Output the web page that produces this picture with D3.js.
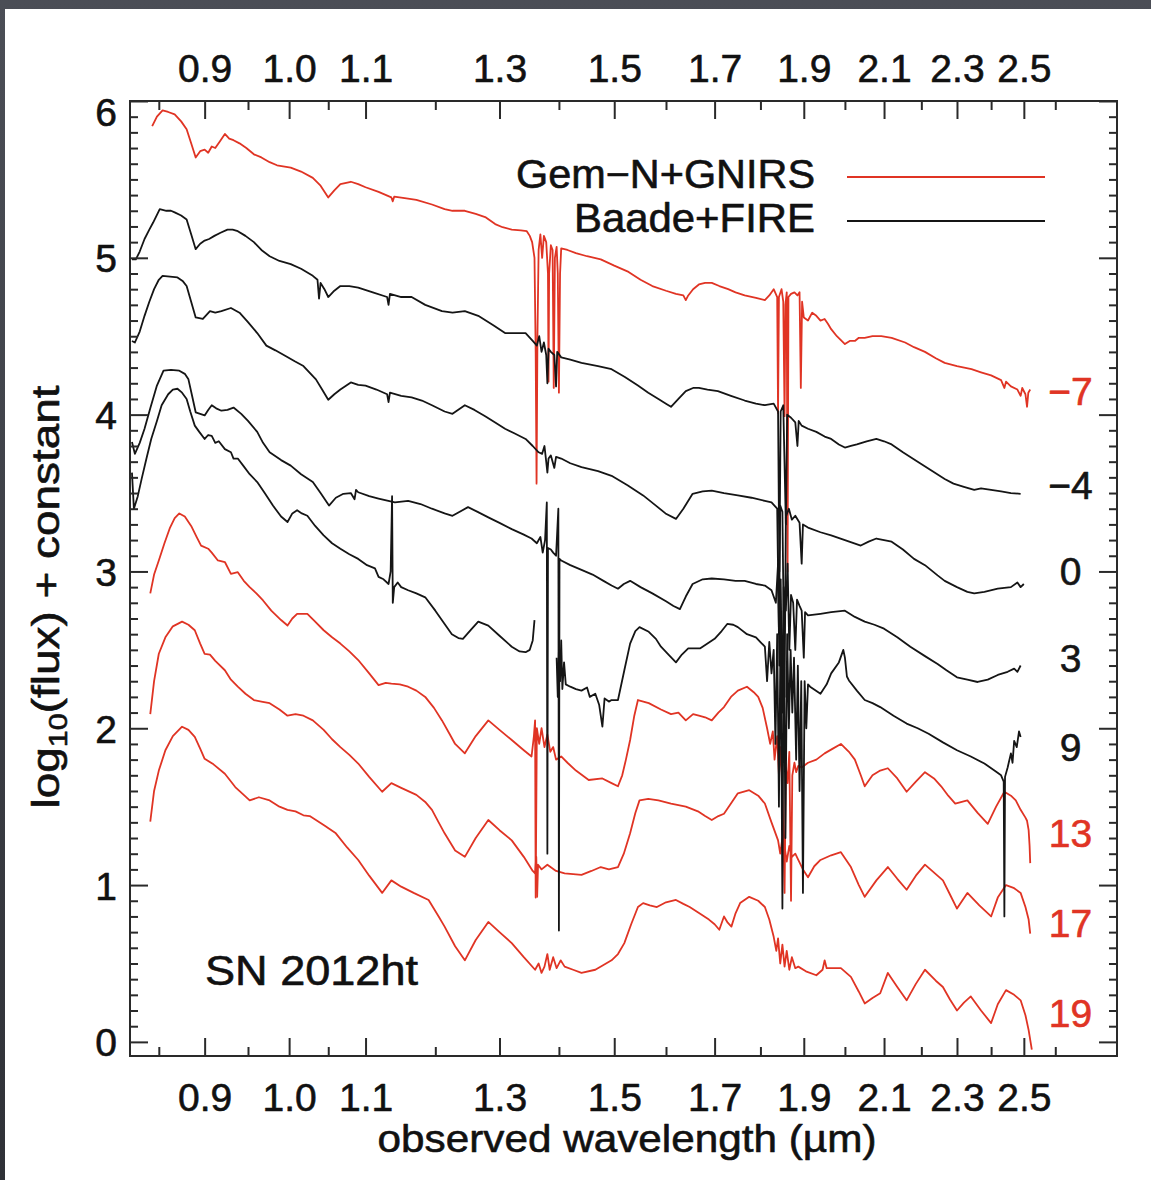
<!DOCTYPE html>
<html>
<head>
<meta charset="utf-8">
<script src="https://cdn.jsdelivr.net/npm/d3@7"></script>
<style>
  html, body { margin: 0; padding: 0; background: #3a3d44; }
  svg { display: block; }
  text { paint-order: stroke; stroke-linejoin: round; }
</style>
</head>
<body>
<svg id="chart" width="1151" height="1180"></svg>
<script>
// Near-infrared spectral sequence of SN 2012ht, log10(flux) + constant vs observed wavelength (µm).
// Each spectrum: [wavelength µm, log10 flux + offset]; null marks a gap in coverage.

const instruments = ["Gem\u2212N+GNIRS", "Baade+FIRE"];
const epochLabels = ["\u22127", "\u22124", "0", "3", "9", "13", "17", "19"];
const epochInstrument = [0, 1, 1, 1, 1, 0, 0, 0];
const epochLabelLevel = [4.15, 3.55, 3.00, 2.45, 1.88, 1.33, 0.76, 0.185];

const specM7 = [[0.843,5.84],[0.848,5.90],[0.854,5.94],[0.860,5.93],[0.867,5.915],[0.874,5.87],[0.880,5.82],[0.885,5.73],[0.890,5.64],[0.895,5.68],[0.900,5.69],[0.904,5.67],[0.908,5.71],[0.912,5.70],[0.917,5.74],[0.923,5.79],[0.928,5.76],[0.933,5.75],[0.940,5.73],[0.948,5.70],[0.957,5.66],[0.966,5.64],[0.976,5.61],[0.985,5.59],[1.002,5.575],[1.015,5.55],[1.030,5.51],[1.040,5.46],[1.050,5.385],[1.058,5.43],[1.066,5.47],[1.080,5.485],[1.090,5.47],[1.100,5.45],[1.118,5.42],[1.136,5.385],[1.138,5.36],[1.140,5.39],[1.155,5.38],[1.172,5.37],[1.195,5.34],[1.214,5.31],[1.226,5.30],[1.245,5.30],[1.262,5.28],[1.277,5.26],[1.293,5.215],[1.305,5.195],[1.320,5.18],[1.335,5.175],[1.345,5.17],[1.350,5.14],[1.354,5.10],[1.358,5.0],[1.360,4.4],[1.3615,3.56],[1.363,4.5],[1.365,5.05],[1.368,5.15],[1.371,5.0],[1.374,5.14],[1.378,5.10],[1.381,4.9],[1.382,4.21],[1.383,4.9],[1.386,5.08],[1.389,5.05],[1.391,4.17],[1.393,5.0],[1.396,5.07],[1.398,4.9],[1.400,4.14],[1.402,4.9],[1.404,5.06],[1.415,5.05],[1.430,5.03],[1.450,5.01],[1.475,4.99],[1.500,4.95],[1.527,4.91],[1.550,4.86],[1.573,4.82],[1.600,4.79],[1.620,4.77],[1.635,4.76],[1.640,4.73],[1.645,4.76],[1.655,4.80],[1.667,4.83],[1.680,4.84],[1.694,4.84],[1.710,4.82],[1.729,4.80],[1.745,4.78],[1.765,4.76],[1.790,4.745],[1.810,4.73],[1.820,4.76],[1.830,4.80],[1.838,4.75],[1.840,4.01],[1.842,4.75],[1.848,4.80],[1.852,4.72],[1.855,3.99],[1.857,4.7],[1.860,4.78],[1.862,3.0],[1.864,4.75],[1.870,4.77],[1.878,4.78],[1.885,4.76],[1.890,4.78],[1.893,4.17],[1.896,4.72],[1.900,4.62],[1.910,4.60],[1.920,4.65],[1.930,4.63],[1.940,4.60],[1.950,4.61],[1.958,4.58],[1.966,4.545],[1.980,4.50],[2.000,4.45],[2.012,4.47],[2.025,4.47],[2.035,4.49],[2.050,4.49],[2.070,4.50],[2.093,4.50],[2.120,4.49],[2.156,4.46],[2.180,4.43],[2.210,4.40],[2.240,4.36],[2.265,4.33],[2.300,4.31],[2.342,4.29],[2.370,4.27],[2.400,4.25],[2.430,4.22],[2.440,4.17],[2.445,4.21],[2.460,4.18],[2.480,4.16],[2.490,4.12],[2.495,4.17],[2.505,4.13],[2.510,4.05],[2.514,4.14],[2.520,4.16]];

const specM4 = [[0.822,4.99],[0.826,4.99],[0.830,5.04],[0.835,5.12],[0.840,5.18],[0.844,5.225],[0.851,5.31],[0.858,5.30],[0.863,5.30],[0.867,5.29],[0.874,5.27],[0.880,5.245],[0.885,5.15],[0.890,5.055],[0.895,5.09],[0.900,5.11],[0.905,5.12],[0.911,5.14],[0.918,5.16],[0.926,5.18],[0.932,5.18],[0.938,5.17],[0.947,5.14],[0.957,5.10],[0.966,5.05],[0.976,5.01],[0.988,4.98],[1.002,4.96],[1.015,4.93],[1.030,4.885],[1.036,4.86],[1.038,4.74],[1.040,4.84],[1.045,4.80],[1.050,4.75],[1.058,4.79],[1.066,4.82],[1.078,4.82],[1.090,4.81],[1.110,4.78],[1.130,4.75],[1.132,4.70],[1.134,4.77],[1.150,4.75],[1.165,4.75],[1.185,4.70],[1.210,4.66],[1.226,4.65],[1.245,4.66],[1.266,4.63],[1.290,4.57],[1.309,4.52],[1.325,4.52],[1.343,4.52],[1.355,4.47],[1.362,4.44],[1.366,4.50],[1.370,4.40],[1.374,4.46],[1.378,4.38],[1.380,4.20],[1.382,4.42],[1.386,4.40],[1.392,4.38],[1.395,4.18],[1.397,4.40],[1.404,4.365],[1.420,4.35],[1.440,4.33],[1.470,4.31],[1.495,4.29],[1.520,4.24],[1.545,4.185],[1.565,4.14],[1.585,4.10],[1.600,4.07],[1.610,4.05],[1.625,4.10],[1.640,4.15],[1.655,4.17],[1.667,4.17],[1.685,4.16],[1.707,4.15],[1.735,4.12],[1.765,4.09],[1.790,4.07],[1.810,4.06],[1.830,4.07],[1.840,4.02],[1.843,3.0],[1.846,4.02],[1.852,4.06],[1.858,3.3],[1.861,4.0],[1.870,3.98],[1.880,3.95],[1.885,3.80],[1.888,3.96],[1.895,3.93],[1.910,3.91],[1.930,3.89],[1.950,3.86],[1.966,3.845],[1.985,3.81],[2.000,3.79],[2.015,3.80],[2.030,3.81],[2.055,3.83],[2.080,3.845],[2.100,3.83],[2.120,3.81],[2.150,3.76],[2.190,3.70],[2.230,3.64],[2.265,3.59],[2.290,3.56],[2.320,3.54],[2.350,3.52],[2.370,3.53],[2.400,3.52],[2.430,3.51],[2.460,3.50],[2.490,3.495]];

const spec0 = [[0.822,4.47],[0.825,4.46],[0.830,4.53],[0.835,4.63],[0.840,4.72],[0.845,4.80],[0.850,4.86],[0.854,4.885],[0.862,4.88],[0.870,4.875],[0.876,4.85],[0.880,4.82],[0.885,4.72],[0.890,4.62],[0.898,4.61],[0.906,4.66],[0.912,4.65],[0.919,4.66],[0.930,4.68],[0.940,4.65],[0.950,4.59],[0.961,4.52],[0.972,4.44],[0.983,4.41],[0.995,4.375],[1.007,4.34],[1.018,4.31],[1.034,4.225],[1.042,4.16],[1.050,4.095],[1.058,4.13],[1.066,4.16],[1.080,4.205],[1.090,4.19],[1.100,4.185],[1.115,4.16],[1.130,4.13],[1.132,4.08],[1.134,4.14],[1.150,4.12],[1.165,4.11],[1.180,4.09],[1.195,4.06],[1.214,4.02],[1.226,4.005],[1.245,4.06],[1.260,4.03],[1.277,3.99],[1.293,3.95],[1.309,3.91],[1.325,3.88],[1.343,3.845],[1.355,3.80],[1.365,3.76],[1.371,3.75],[1.375,3.80],[1.378,3.70],[1.380,3.63],[1.382,3.72],[1.386,3.74],[1.392,3.66],[1.395,3.73],[1.404,3.72],[1.420,3.69],[1.440,3.665],[1.470,3.64],[1.495,3.61],[1.525,3.55],[1.555,3.485],[1.580,3.42],[1.599,3.37],[1.620,3.335],[1.635,3.40],[1.654,3.495],[1.675,3.51],[1.694,3.515],[1.720,3.50],[1.750,3.485],[1.780,3.47],[1.810,3.45],[1.825,3.44],[1.838,3.40],[1.842,2.6],[1.845,3.42],[1.850,3.38],[1.855,2.2],[1.858,3.35],[1.865,3.40],[1.872,3.33],[1.880,3.355],[1.890,3.31],[1.895,3.05],[1.898,3.30],[1.910,3.28],[1.940,3.25],[1.966,3.23],[2.000,3.20],[2.040,3.165],[2.060,3.19],[2.080,3.21],[2.100,3.20],[2.120,3.19],[2.150,3.14],[2.180,3.08],[2.210,3.04],[2.245,2.975],[2.265,2.94],[2.300,2.90],[2.330,2.87],[2.350,2.86],[2.380,2.87],[2.420,2.89],[2.460,2.90],[2.480,2.93],[2.490,2.90],[2.500,2.92]];

const spec3 = [[0.822,3.825],[0.825,3.75],[0.830,3.82],[0.835,3.91],[0.841,4.04],[0.848,4.185],[0.855,4.28],[0.863,4.285],[0.872,4.28],[0.878,4.26],[0.882,4.225],[0.886,4.12],[0.890,4.015],[0.900,3.995],[0.904,4.03],[0.908,4.06],[0.913,4.04],[0.919,4.025],[0.926,4.03],[0.933,4.045],[0.942,4.005],[0.950,3.96],[0.961,3.89],[0.968,3.82],[0.976,3.76],[0.990,3.71],[1.002,3.675],[1.015,3.62],[1.030,3.57],[1.040,3.50],[1.051,3.42],[1.060,3.47],[1.070,3.495],[1.080,3.50],[1.085,3.46],[1.087,3.52],[1.090,3.505],[1.105,3.48],[1.118,3.465],[1.141,3.44],[1.160,3.45],[1.178,3.43],[1.195,3.40],[1.214,3.37],[1.226,3.355],[1.250,3.41],[1.265,3.38],[1.282,3.345],[1.300,3.31],[1.320,3.27],[1.340,3.235],[1.353,3.21],[1.362,3.18],[1.368,3.22],[1.372,3.12],[1.376,3.20],[1.379,3.44],[1.380,1.20],[1.381,3.15],[1.386,3.14],[1.390,3.12],[1.395,3.10],[1.399,3.40],[1.400,0.71],[1.401,3.08],[1.404,3.07],[1.420,3.04],[1.440,3.01],[1.460,2.98],[1.480,2.94],[1.495,2.91],[1.507,2.89],[1.518,2.92],[1.530,2.94],[1.550,2.90],[1.573,2.86],[1.600,2.81],[1.615,2.78],[1.628,2.76],[1.640,2.84],[1.654,2.92],[1.675,2.95],[1.694,2.955],[1.720,2.95],[1.745,2.94],[1.765,2.94],[1.790,2.92],[1.810,2.91],[1.825,2.88],[1.835,2.80],[1.840,3.05],[1.843,2.4],[1.846,2.95],[1.850,2.1],[1.853,2.90],[1.858,2.75],[1.862,3.05],[1.866,2.5],[1.870,2.85],[1.875,2.80],[1.880,2.50],[1.884,2.82],[1.890,2.78],[1.895,2.75],[1.900,2.45],[1.903,2.74],[1.910,2.72],[1.940,2.73],[1.966,2.74],[2.000,2.75],[2.025,2.71],[2.050,2.68],[2.075,2.66],[2.100,2.635],[2.135,2.58],[2.170,2.52],[2.210,2.46],[2.245,2.41],[2.270,2.37],[2.300,2.325],[2.330,2.31],[2.360,2.295],[2.390,2.31],[2.420,2.34],[2.450,2.36],[2.470,2.38],[2.480,2.36],[2.490,2.40]];

const spec9 = [[0.822,3.63],[0.824,3.40],[0.828,3.48],[0.832,3.59],[0.837,3.72],[0.842,3.845],[0.848,3.96],[0.853,4.06],[0.860,4.13],[0.865,4.16],[0.870,4.165],[0.875,4.14],[0.880,4.10],[0.884,4.02],[0.889,3.93],[0.894,3.89],[0.900,3.845],[0.904,3.87],[0.908,3.865],[0.912,3.82],[0.916,3.83],[0.923,3.78],[0.930,3.76],[0.933,3.72],[0.938,3.72],[0.945,3.67],[0.952,3.62],[0.961,3.57],[0.970,3.50],[0.980,3.42],[0.990,3.35],[0.998,3.315],[1.004,3.37],[1.010,3.39],[1.016,3.37],[1.023,3.355],[1.033,3.29],[1.044,3.23],[1.055,3.18],[1.066,3.145],[1.078,3.11],[1.090,3.08],[1.102,3.04],[1.113,3.02],[1.118,2.965],[1.125,2.95],[1.132,2.92],[1.135,3.0],[1.137,3.48],[1.138,2.80],[1.140,2.90],[1.145,2.93],[1.150,2.90],[1.160,2.88],[1.172,2.86],[1.185,2.835],[1.200,2.75],[1.214,2.665],[1.225,2.60],[1.235,2.575],[1.242,2.57],[1.255,2.63],[1.266,2.68],[1.282,2.655],[1.300,2.59],[1.320,2.52],[1.333,2.49],[1.343,2.485],[1.350,2.50],[1.355,2.56],[1.358,2.69],[1.370,null],[1.396,2.45],[1.398,2.20],[1.400,2.50],[1.402,2.30],[1.404,2.56],[1.406,2.25],[1.409,2.42],[1.412,2.28],[1.420,2.265],[1.430,2.25],[1.440,2.24],[1.450,2.26],[1.455,2.20],[1.465,2.22],[1.472,2.15],[1.478,2.01],[1.482,2.19],[1.490,2.17],[1.495,2.18],[1.507,2.18],[1.519,2.37],[1.530,2.54],[1.540,2.62],[1.548,2.645],[1.566,2.615],[1.580,2.57],[1.590,2.52],[1.605,2.47],[1.620,2.42],[1.632,2.47],[1.645,2.51],[1.670,2.51],[1.685,2.54],[1.700,2.57],[1.715,2.62],[1.727,2.665],[1.740,2.66],[1.750,2.645],[1.770,2.60],[1.790,2.58],[1.800,2.55],[1.810,2.52],[1.815,2.30],[1.820,2.55],[1.825,2.35],[1.830,2.50],[1.834,1.9],[1.838,2.6],[1.842,1.5],[1.846,2.7],[1.850,0.85],[1.853,2.75],[1.857,1.3],[1.861,2.6],[1.865,2.0],[1.869,2.5],[1.873,2.1],[1.877,2.45],[1.882,1.8],[1.886,2.4],[1.890,1.6],[1.894,2.3],[1.898,0.95],[1.902,2.3],[1.906,2.0],[1.910,2.28],[1.915,2.265],[1.940,2.22],[1.955,2.28],[1.966,2.35],[1.985,2.42],[1.996,2.50],[2.000,2.45],[2.005,2.33],[2.010,2.305],[2.030,2.24],[2.050,2.18],[2.070,2.16],[2.090,2.135],[2.125,2.08],[2.160,2.03],[2.190,2.00],[2.220,1.965],[2.260,1.91],[2.300,1.86],[2.340,1.82],[2.380,1.775],[2.410,1.73],[2.430,1.70],[2.438,1.66],[2.440,0.80],[2.442,1.69],[2.450,1.75],[2.460,1.84],[2.465,1.78],[2.470,1.92],[2.478,1.88],[2.485,1.98],[2.490,1.945]];

const spec13 = [[0.841,2.86],[0.845,2.98],[0.850,3.07],[0.856,3.18],[0.862,3.28],[0.867,3.34],[0.872,3.37],[0.878,3.35],[0.885,3.29],[0.891,3.22],[0.896,3.165],[0.904,3.145],[0.908,3.12],[0.915,3.07],[0.923,3.06],[0.930,2.985],[0.938,2.995],[0.945,2.94],[0.952,2.90],[0.960,2.86],[0.968,2.815],[0.978,2.75],[0.990,2.69],[0.998,2.655],[1.004,2.70],[1.010,2.73],[1.023,2.73],[1.033,2.68],[1.044,2.625],[1.055,2.58],[1.066,2.54],[1.078,2.49],[1.090,2.435],[1.105,2.35],[1.118,2.275],[1.128,2.29],[1.136,2.285],[1.148,2.28],[1.160,2.265],[1.172,2.24],[1.185,2.20],[1.198,2.13],[1.210,2.05],[1.222,1.96],[1.230,1.90],[1.245,1.84],[1.262,1.95],[1.282,2.05],[1.300,1.99],[1.320,1.925],[1.340,1.86],[1.353,1.82],[1.357,1.95],[1.359,2.05],[1.360,0.92],[1.362,2.0],[1.366,1.90],[1.370,2.0],[1.375,1.88],[1.380,1.96],[1.385,1.85],[1.390,1.88],[1.395,1.80],[1.404,1.82],[1.415,1.78],[1.430,1.73],[1.453,1.67],[1.478,1.68],[1.495,1.65],[1.507,1.63],[1.515,1.70],[1.522,1.80],[1.530,1.925],[1.538,2.08],[1.545,2.18],[1.566,2.16],[1.590,2.12],[1.610,2.09],[1.625,2.10],[1.640,2.05],[1.655,2.09],[1.667,2.08],[1.680,2.07],[1.694,2.05],[1.708,2.10],[1.720,2.135],[1.735,2.20],[1.750,2.24],[1.770,2.265],[1.785,2.23],[1.795,2.20],[1.805,2.13],[1.815,2.00],[1.822,1.90],[1.828,1.98],[1.832,1.80],[1.838,1.95],[1.842,1.70],[1.846,1.88],[1.850,1.60],[1.855,0.95],[1.858,1.75],[1.862,1.65],[1.866,1.85],[1.870,0.90],[1.873,1.70],[1.878,1.78],[1.882,1.72],[1.887,1.76],[1.895,1.75],[1.910,1.78],[1.930,1.80],[1.950,1.84],[1.970,1.87],[1.990,1.90],[2.010,1.85],[2.025,1.80],[2.040,1.70],[2.050,1.63],[2.070,1.70],[2.090,1.73],[2.110,1.745],[2.135,1.68],[2.160,1.595],[2.185,1.66],[2.210,1.72],[2.235,1.68],[2.255,1.63],[2.275,1.57],[2.295,1.52],[2.330,1.54],[2.360,1.46],[2.390,1.39],[2.415,1.50],[2.440,1.595],[2.460,1.57],[2.475,1.54],[2.490,1.48],[2.505,1.43],[2.510,1.41],[2.515,1.35],[2.518,1.25],[2.520,1.14]];

const spec17 = [[0.841,2.09],[0.845,2.30],[0.850,2.475],[0.857,2.58],[0.865,2.65],[0.875,2.68],[0.882,2.66],[0.889,2.625],[0.895,2.54],[0.900,2.475],[0.906,2.47],[0.912,2.43],[0.923,2.37],[0.930,2.31],[0.938,2.265],[0.947,2.22],[0.957,2.18],[0.966,2.17],[0.976,2.16],[0.988,2.12],[0.998,2.08],[1.008,2.09],[1.018,2.08],[1.030,2.05],[1.044,1.99],[1.055,1.93],[1.066,1.88],[1.078,1.83],[1.090,1.775],[1.105,1.69],[1.123,1.595],[1.136,1.65],[1.150,1.62],[1.172,1.575],[1.185,1.53],[1.195,1.48],[1.205,1.40],[1.214,1.33],[1.230,1.22],[1.245,1.18],[1.262,1.30],[1.282,1.415],[1.300,1.35],[1.320,1.285],[1.340,1.18],[1.355,1.09],[1.359,1.075],[1.361,1.18],[1.3625,0.925],[1.364,1.13],[1.370,1.10],[1.380,1.13],[1.395,1.09],[1.410,1.075],[1.425,1.07],[1.440,1.065],[1.458,1.09],[1.475,1.115],[1.490,1.10],[1.507,1.115],[1.518,1.20],[1.530,1.33],[1.540,1.46],[1.548,1.54],[1.565,1.55],[1.585,1.54],[1.610,1.52],[1.640,1.50],[1.665,1.47],[1.680,1.44],[1.694,1.415],[1.708,1.44],[1.720,1.455],[1.735,1.52],[1.750,1.585],[1.775,1.605],[1.795,1.57],[1.810,1.52],[1.825,1.40],[1.840,1.285],[1.845,1.20],[1.850,1.30],[1.855,1.245],[1.860,1.15],[1.866,1.25],[1.872,1.18],[1.880,1.20],[1.887,1.16],[1.898,1.10],[1.910,1.05],[1.925,1.12],[1.940,1.16],[1.966,1.19],[1.990,1.21],[2.015,1.115],[2.035,1.00],[2.050,0.925],[2.080,1.03],[2.110,1.115],[2.135,1.04],[2.160,0.97],[2.185,1.06],[2.210,1.13],[2.240,1.07],[2.260,1.03],[2.280,0.94],[2.300,0.85],[2.330,0.95],[2.365,0.87],[2.400,0.80],[2.420,0.92],[2.445,1.00],[2.470,0.98],[2.490,0.95],[2.505,0.86],[2.515,0.78],[2.520,0.69]];

const spec19 = [[0.841,1.405],[0.845,1.60],[0.850,1.73],[0.857,1.86],[0.865,1.95],[0.875,2.01],[0.882,1.99],[0.889,1.945],[0.895,1.87],[0.900,1.805],[0.910,1.77],[0.923,1.71],[0.935,1.625],[0.944,1.58],[0.952,1.54],[0.963,1.56],[0.976,1.54],[0.988,1.50],[0.998,1.48],[1.008,1.47],[1.018,1.445],[1.026,1.44],[1.034,1.415],[1.045,1.38],[1.060,1.33],[1.075,1.24],[1.090,1.16],[1.105,1.06],[1.123,0.95],[1.136,1.03],[1.150,0.99],[1.168,0.95],[1.190,0.905],[1.205,0.80],[1.214,0.735],[1.230,0.61],[1.245,0.52],[1.262,0.65],[1.282,0.765],[1.300,0.70],[1.320,0.63],[1.340,0.54],[1.359,0.46],[1.365,0.50],[1.370,0.44],[1.375,0.48],[1.380,0.56],[1.384,0.46],[1.390,0.54],[1.396,0.47],[1.403,0.52],[1.410,0.48],[1.425,0.46],[1.440,0.44],[1.465,0.46],[1.480,0.49],[1.495,0.52],[1.507,0.56],[1.519,0.63],[1.532,0.75],[1.545,0.86],[1.555,0.885],[1.568,0.87],[1.582,0.86],[1.600,0.89],[1.620,0.905],[1.635,0.88],[1.648,0.86],[1.668,0.82],[1.688,0.78],[1.700,0.75],[1.710,0.715],[1.720,0.80],[1.728,0.76],[1.736,0.735],[1.745,0.82],[1.755,0.885],[1.775,0.925],[1.795,0.90],[1.810,0.86],[1.820,0.78],[1.830,0.67],[1.836,0.58],[1.840,0.66],[1.845,0.50],[1.850,0.62],[1.855,0.48],[1.860,0.58],[1.866,0.46],[1.872,0.54],[1.880,0.47],[1.887,0.48],[1.905,0.45],[1.930,0.425],[1.945,0.46],[1.950,0.52],[1.955,0.47],[1.970,0.47],[1.990,0.47],[2.015,0.415],[2.035,0.32],[2.050,0.245],[2.070,0.28],[2.090,0.31],[2.110,0.44],[2.135,0.35],[2.160,0.265],[2.185,0.37],[2.210,0.46],[2.240,0.39],[2.260,0.35],[2.280,0.27],[2.300,0.20],[2.320,0.25],[2.340,0.29],[2.370,0.20],[2.400,0.12],[2.420,0.24],[2.445,0.33],[2.470,0.30],[2.490,0.265],[2.505,0.17],[2.515,0.075],[2.525,-0.05]];

const spectra = [specM7, specM4, spec0, spec3, spec9, spec13, spec17, spec19];

// Axis ticks (µm on log axis, log flux on linear axis)
const xMajorTicks = [0.9, 1.0, 1.1, 1.3, 1.5, 1.7, 1.9, 2.1, 2.3, 2.5];
const xMinorTicks = [0.85, 0.95, 1.05, 1.2, 1.4, 1.6, 1.8, 2.0, 2.2, 2.4, 2.6];
const yMajorTicks = [0, 1, 2, 3, 4, 5, 6];
const yMinorTicks = d3.range(1, 60).filter(i => i % 10 !== 0).map(i => i / 10);

const objectName = "SN 2012ht";
const xTitle = "observed wavelength (\u00b5m)";

// ---- layout ----
const W = 1151, H = 1180;
const frame = { left: 130, right: 1117, top: 101, bottom: 1056 };
const RED = "#e03424", BLACK = "#151515", AXIS = "#2a2a2a", INK = "#111";
const FONT = "'Liberation Sans', Arial, Helvetica, sans-serif";
const TEXT_STROKE = 0.6;
const instColor = [RED, BLACK];

const svg = d3.select("#chart");

const defs = svg.append("defs");
const bg = defs.append("linearGradient").attr("id", "bgGrad")
  .attr("x1", 0).attr("y1", 0).attr("x2", 0).attr("y2", 1);
bg.append("stop").attr("offset", "0%").attr("stop-color", "#4b4e56");
bg.append("stop").attr("offset", "100%").attr("stop-color", "#2f3137");

svg.append("rect").attr("width", W).attr("height", H).attr("fill", "url(#bgGrad)");
svg.append("rect").attr("x", 5).attr("y", 9).attr("width", W - 5).attr("height", H - 9).attr("fill", "#ffffff");

const x = d3.scaleLog().domain([0.82, 2.808]).range([frame.left, frame.right]);
const y = d3.scaleLinear().domain([-0.09, 6.0]).range([frame.bottom, frame.top]);

// ---- spectra ----
const line = d3.line()
  .defined(d => d[1] !== null)
  .x(d => x(d[0]))
  .y(d => y(d[1]));

const order = [0, 5, 6, 7, 1, 2, 3, 4]; // red set first, black set on top
const gLines = svg.append("g").attr("fill", "none").attr("stroke-linejoin", "round");
order.forEach(i => {
  gLines.append("path")
    .attr("d", line(spectra[i]))
    .attr("stroke", instColor[epochInstrument[i]])
    .attr("stroke-width", 1.8);
});

// ---- axes ----
function styleAxis(g) {
  g.select(".domain").remove();
  g.selectAll(".tick line").attr("stroke", AXIS).attr("stroke-width", 2);
  g.selectAll(".tick text")
    .attr("fill", INK).attr("stroke", INK).attr("stroke-width", TEXT_STROKE)
    .attr("font-size", 39).attr("font-family", FONT);
}
const fmt = d3.format(".1f");

svg.append("g").attr("transform", `translate(0,${frame.bottom})`)
  .call(d3.axisBottom(x).tickValues(xMajorTicks).tickSize(-18).tickSizeOuter(0).tickPadding(27).tickFormat(fmt))
  .call(styleAxis);
svg.append("g").attr("transform", `translate(0,${frame.bottom})`)
  .call(d3.axisBottom(x).tickValues(xMinorTicks).tickSize(-9).tickSizeOuter(0).tickFormat(""))
  .call(styleAxis);
svg.append("g").attr("transform", `translate(0,${frame.top})`)
  .call(d3.axisTop(x).tickValues(xMajorTicks).tickSize(-18).tickSizeOuter(0).tickPadding(19).tickFormat(fmt))
  .call(styleAxis);
svg.append("g").attr("transform", `translate(0,${frame.top})`)
  .call(d3.axisTop(x).tickValues(xMinorTicks).tickSize(-9).tickSizeOuter(0).tickFormat(""))
  .call(styleAxis);

const yLeft = svg.append("g").attr("transform", `translate(${frame.left},0)`)
  .call(d3.axisLeft(y).tickValues(yMajorTicks).tickSize(-18).tickSizeOuter(0).tickPadding(13).tickFormat(d3.format("d")))
  .call(styleAxis);
// keep the top label inside the panel's top edge
yLeft.selectAll(".tick text").attr("dy", d => d === 6 ? "0.62em" : "0.36em");
svg.append("g").attr("transform", `translate(${frame.left},0)`)
  .call(d3.axisLeft(y).tickValues(yMinorTicks).tickSize(-8).tickSizeOuter(0).tickFormat(""))
  .call(styleAxis);
svg.append("g").attr("transform", `translate(${frame.right},0)`)
  .call(d3.axisRight(y).tickValues(yMajorTicks).tickSize(-18).tickSizeOuter(0).tickFormat(""))
  .call(styleAxis);
svg.append("g").attr("transform", `translate(${frame.right},0)`)
  .call(d3.axisRight(y).tickValues(yMinorTicks).tickSize(-8).tickSizeOuter(0).tickFormat(""))
  .call(styleAxis);

svg.append("rect")
  .attr("x", frame.left).attr("y", frame.top)
  .attr("width", frame.right - frame.left).attr("height", frame.bottom - frame.top)
  .attr("fill", "none").attr("stroke", AXIS).attr("stroke-width", 2);

// ---- epoch labels (days) ----
svg.append("g").selectAll("text").data(epochLabels).join("text")
  .attr("x", x(2.65))
  .attr("y", (d, i) => y(epochLabelLevel[i]))
  .attr("dy", "0.36em")
  .attr("text-anchor", "middle")
  .attr("font-family", FONT).attr("font-size", 39)
  .attr("fill", (d, i) => instColor[epochInstrument[i]])
  .attr("stroke", (d, i) => instColor[epochInstrument[i]])
  .attr("stroke-width", TEXT_STROKE)
  .text(d => d);

// ---- legend ----
const legend = svg.append("g");
const legendRows = [
  { name: instruments[0], color: RED, base: 188, lineY: 177, len: 299 },
  { name: instruments[1], color: BLACK, base: 232, lineY: 221, len: 241 }
];
legendRows.forEach(r => {
  legend.append("text")
    .attr("x", 815).attr("y", r.base)
    .attr("text-anchor", "end")
    .attr("font-family", FONT).attr("font-size", 40)
    .attr("fill", INK).attr("stroke", INK).attr("stroke-width", TEXT_STROKE)
    .attr("textLength", r.len).attr("lengthAdjust", "spacingAndGlyphs")
    .text(r.name);
  legend.append("line")
    .attr("x1", 847).attr("x2", 1045).attr("y1", r.lineY).attr("y2", r.lineY)
    .attr("stroke", r.color).attr("stroke-width", 2.2);
});

// ---- object name ----
svg.append("text")
  .attr("x", 205).attr("y", 985)
  .attr("font-family", FONT).attr("font-size", 42)
  .attr("fill", INK).attr("stroke", INK).attr("stroke-width", TEXT_STROKE)
  .attr("textLength", 213).attr("lengthAdjust", "spacingAndGlyphs")
  .text(objectName);

// ---- axis titles ----
svg.append("text")
  .attr("x", 627).attr("y", 1152)
  .attr("text-anchor", "middle")
  .attr("font-family", FONT).attr("font-size", 39)
  .attr("fill", INK).attr("stroke", INK).attr("stroke-width", TEXT_STROKE)
  .attr("textLength", 499).attr("lengthAdjust", "spacingAndGlyphs")
  .text(xTitle);

const yTitle = svg.append("text")
  .attr("transform", "translate(59,597) rotate(-90)")
  .attr("text-anchor", "middle")
  .attr("font-family", FONT).attr("font-size", 39)
  .attr("fill", INK).attr("stroke", INK).attr("stroke-width", TEXT_STROKE)
  .attr("textLength", 423).attr("lengthAdjust", "spacingAndGlyphs");
yTitle.append("tspan").text("log");
yTitle.append("tspan").attr("font-size", 26).attr("dy", 8).text("10");
yTitle.append("tspan").attr("dy", -8).text("(flux) + constant");
</script>
</body>
</html>
